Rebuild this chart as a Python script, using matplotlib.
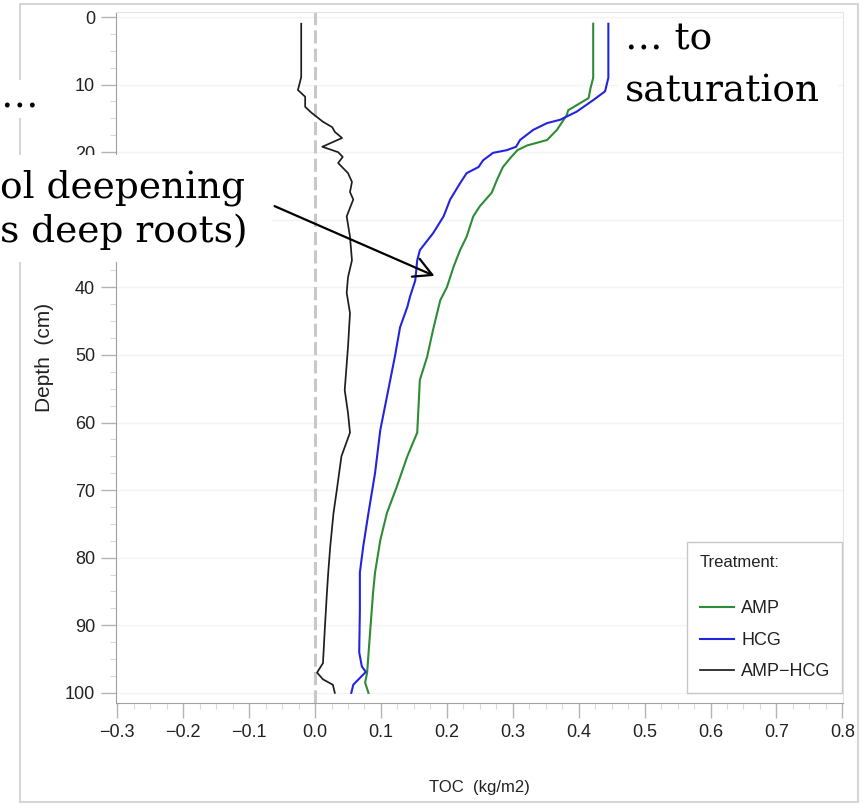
import matplotlib
matplotlib.use("Agg")
import matplotlib.pyplot as plt
from matplotlib import font_manager
from matplotlib.patches import Rectangle, FancyArrowPatch
from matplotlib.ticker import MultipleLocator

# TOC profiles by depth (cm)
amp_depth = [1, 9, 10.5, 12, 13.8, 14.5, 16.7, 18.2, 19, 19.7, 20.9, 22.2, 24.1, 26, 28, 29.5,
             32.5, 34.5, 37, 40, 41.9, 46.3, 50.3, 53.7, 61.5, 65, 69.5, 73.4, 77.4, 82.2,
             85.2, 91.7, 97, 98.5, 100]
amp_toc = [0.422, 0.422, 0.418, 0.415, 0.384, 0.382, 0.367, 0.352, 0.322, 0.307, 0.296, 0.285,
           0.276, 0.268, 0.25, 0.24, 0.23, 0.22, 0.21, 0.20, 0.19, 0.179, 0.17, 0.159, 0.155,
           0.14, 0.124, 0.109, 0.099, 0.091, 0.088, 0.083, 0.079, 0.076, 0.081]

hcg_depth = [1, 9, 11, 12.3, 14, 15.2, 15.7, 16.7, 18.2, 19.2, 19.7, 20.1, 21.2, 22.2, 23.1,
             24.6, 27, 29.5, 32, 34.5, 36, 39, 41.4, 42.9, 45.9, 50.3, 56.2, 61.1, 67.5, 73.4,
             78.4, 82.2, 87.7, 94, 96.1, 96.9, 97.8, 98.8, 100]
hcg_toc = [0.445, 0.445, 0.44, 0.422, 0.397, 0.372, 0.352, 0.331, 0.311, 0.305, 0.291, 0.27,
           0.255, 0.248, 0.23, 0.22, 0.205, 0.195, 0.179, 0.159, 0.155, 0.152, 0.144, 0.14,
           0.129, 0.121, 0.109, 0.099, 0.091, 0.081, 0.073, 0.068, 0.068, 0.067, 0.071, 0.077,
           0.068, 0.058, 0.055]

diff_depth = [1, 8.9, 10.8, 11.8, 13.3, 14.2, 15.5, 16.3, 17, 17.9, 19.2, 20, 20.7, 21.6, 22.2,
              23.1, 24.4, 25.9, 27, 29.5, 32.5, 36, 38.5, 40.8, 43.8, 48.8, 55.2, 58.6, 61.5,
              65, 70, 73.4, 78.4, 82.2, 85.2, 90.2, 95.6, 97, 98, 98.8, 100]
diff_toc = [-0.021, -0.021, -0.026, -0.015, -0.015, -0.005, 0.012, 0.026, 0.03, 0.041, 0.011,
            0.035, 0.042, 0.035, 0.041, 0.05, 0.056, 0.053, 0.058, 0.048, 0.053, 0.056, 0.05,
            0.048, 0.053, 0.05, 0.045, 0.05, 0.053, 0.04, 0.033, 0.028, 0.023, 0.02, 0.018,
            0.015, 0.012, 0.003, 0.012, 0.027, 0.03]

x_ticks = [-0.3, -0.2, -0.1, 0.0, 0.1, 0.2, 0.3, 0.4, 0.5, 0.6, 0.7, 0.8]
x_tick_labels = ['−0.3', '−0.2', '−0.1', '0.0', '0.1', '0.2', '0.3', '0.4', '0.5', '0.6', '0.7', '0.8']
y_ticks = [0, 10, 20, 30, 40, 50, 60, 70, 80, 90, 100]

W, H = 868, 809

def fx(px):
    return px / W

def fy(py):
    return 1 - py / H

# condensed sans for the axes if it is there
names = {f.name for f in font_manager.fontManager.ttflist}
if 'Liberation Sans Narrow' in names:
    sans = ['Liberation Sans Narrow', 'DejaVu Sans']
    k = 1.15
else:
    sans = ['Liberation Sans', 'DejaVu Sans']
    k = 1.0
plt.rcParams['font.family'] = sans
serif = ['DejaVu Serif']

fig = plt.figure(figsize=(8.68, 8.09), dpi=100)
ax = fig.add_axes([fx(116), fy(703), fx(843) - fx(116), fy(12) - fy(703)])

ax.axvline(0, color='#c8c8c8', lw=2.2, ls=(0, (4.3, 1.7)), zorder=1)
ax.plot(amp_toc, amp_depth, color='#2e8b36', lw=1.5, label='AMP', zorder=3)
ax.plot(hcg_toc, hcg_depth, color='#2424e0', lw=1.5, label='HCG', zorder=3)
ax.plot(diff_toc, diff_depth, color='#1e1e1e', lw=1.25, label='AMP−HCG', zorder=3)

ax.set_xlim(-0.302, 0.801)
ax.set_ylim(101.5, -0.74)
ax.set_xticks(x_ticks)
ax.set_xticklabels(x_tick_labels)
ax.set_yticks(y_ticks)
# the 30 label sits under the note box
ax.get_yticklabels()[3].set_visible(False)
ax.xaxis.set_minor_locator(MultipleLocator(0.025))
ax.yaxis.set_minor_locator(MultipleLocator(2.5))
ax.tick_params(which='major', length=11, width=1, color='#b4b4b4', labelsize=13 * k,
               labelcolor='#222222', pad=4)
ax.tick_params(which='minor', length=4, width=0.8, color='#d8d8d8')
ax.grid(axis='y', color='#f3f3f3', lw=1)
ax.set_axisbelow(True)

for side in ['left', 'bottom']:
    ax.spines[side].set_color('#a0a0a0')
for side in ['top', 'right']:
    ax.spines[side].set_color('#e4e4e4')

ax.set_xlabel('TOC  (kg/m2)', fontsize=12 * k, color='#222222')
ax.xaxis.set_label_coords(0.5, (703 - 780) / 691)
ax.set_ylabel('Depth  (cm)', fontsize=15 * k, color='#222222')
ax.yaxis.set_label_coords((54 - 116) / 727, 0.5)

leg = ax.legend(title='Treatment:', loc='lower left',
                bbox_to_anchor=((687 - 116) / 727, (703 - 693) / 691, (842 - 687) / 727, 0),
                mode='expand', borderaxespad=0, alignment='left', fancybox=False,
                framealpha=1, fontsize=13 * k, title_fontsize=12 * k, handlelength=1.9,
                handletextpad=0.4, labelspacing=0.8, borderpad=0.7)
leg.get_frame().set_edgecolor('#c8c8c8')
leg.get_frame().set_linewidth(1)
leg._legend_box.sep = 22
for t in leg.get_texts():
    t.set_color('#222222')
leg.get_title().set_color('#222222')

# outer frame round the whole plot
fig.add_artist(Rectangle((fx(20), fy(802)), fx(858) - fx(20), fy(4) - fy(802),
                         transform=fig.transFigure, fill=False, edgecolor='#d6d6d6',
                         lw=1.5, zorder=1))

# white boxes behind the notes
for x0, y0, x1, y1 in [(0, 80, 46, 118), (0, 155, 272, 262), (618, 22, 838, 118)]:
    fig.add_artist(Rectangle((fx(x0), fy(y1)), fx(x1) - fx(x0), fy(y0) - fy(y1),
                             transform=fig.transFigure, facecolor='white',
                             edgecolor='none', zorder=2))

notes = [(0, 107, '…'), (0, 197, 'ol deepening'), (0, 242, 's deep roots)'),
         (625, 50, '… to'), (625, 101, 'saturation')]
for x, y, s in notes:
    fig.text(fx(x), fy(y), s, family=serif, fontsize=27, color='black',
             ha='left', va='baseline', zorder=3)

fig.add_artist(FancyArrowPatch((fx(272), fy(205)), (fx(437), fy(277)),
                               transform=fig.transFigure,
                               arrowstyle='->,head_length=0.65,head_width=0.35',
                               mutation_scale=20, lw=1.6, color='black', zorder=4))

fig.savefig('out.png', dpi=100, facecolor='white')
